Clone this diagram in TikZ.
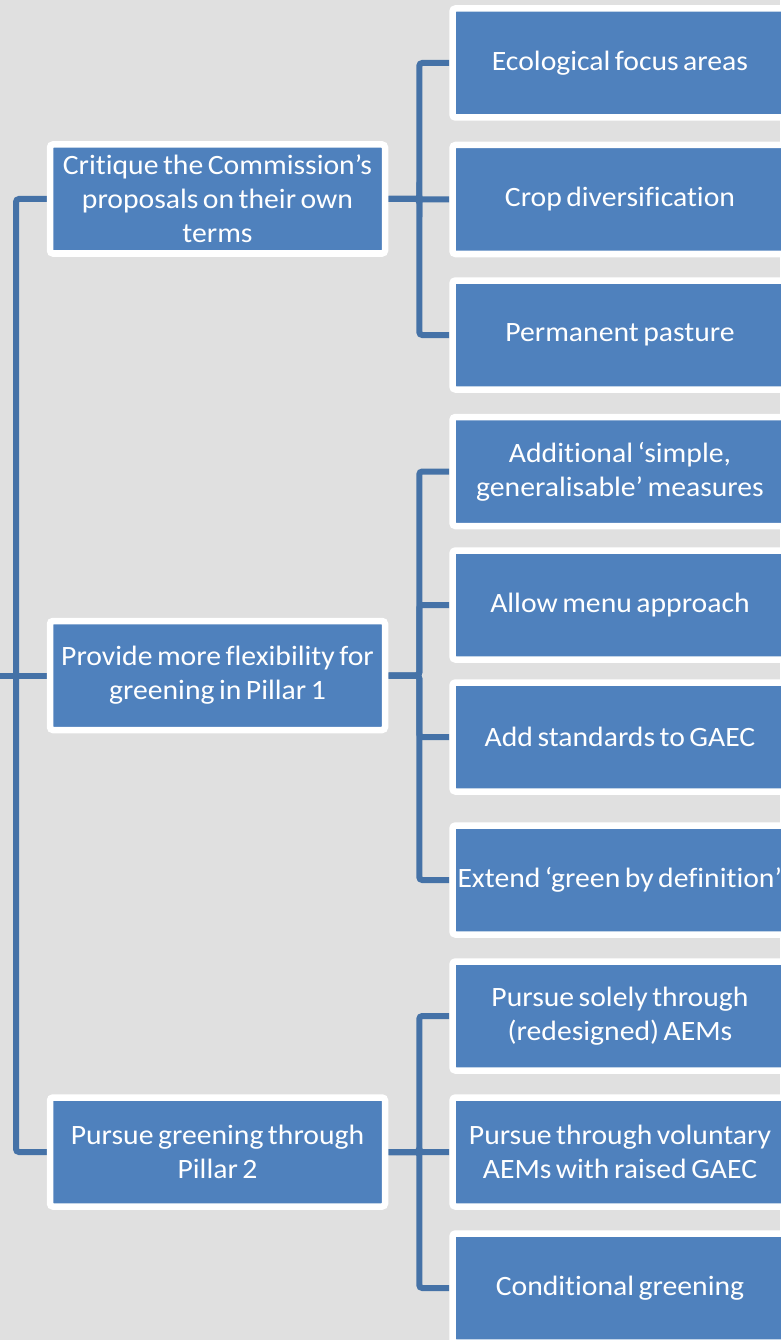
\documentclass[tikz,border=0pt]{standalone}
\usepackage{fontspec}
\setmainfont[Ligatures=NoCommon,FakeStretch=1.06]{Carlito}
\usetikzlibrary{backgrounds,calc}
\definecolor{bg}{HTML}{E0E0E0}
\definecolor{boxblue}{HTML}{4F81BD}
\definecolor{linkblue}{HTML}{4572A7}
\newcommand\cardfont{\fontsize{28}{34}\selectfont\spaceskip=4.5pt plus 1pt minus 1pt\relax}
\begin{document}
\begin{tikzpicture}[x=1pt,y=-1pt,
  card/.style={draw=white, line width=6.5pt, fill=boxblue, rounded corners=3pt,
    minimum width=335pt, minimum height=109pt, align=center,
    inner sep=0pt, text=white, font=\cardfont},
  conn/.style={draw=linkblue, line width=6pt, rounded corners=3pt}]
\useasboundingbox (0,0) rectangle (780,1340);
% middle level
\node[card] (m1) at (217.5,199) {Critique the Commission’s\\proposals on their own\\terms};
\node[card] (m2) at (217.5,675.5) {Provide more flexibility for\\greening in Pillar 1};
\node[card] (m3) at (217.5,1152) {Pursue greening through\\Pillar 2};
% right level
\node[card] (r1) at (620,63) {Ecological focus areas};
\node[card] (r2) at (620,199.5) {Crop diversification};
\node[card] (r3) at (620,335) {Permanent pasture};
\node[card] (r4) at (620,471.5) {Additional ‘simple,\\generalisable’ measures};
\node[card] (r5) at (620,605) {Allow menu approach};
\node[card] (r6) at (620,737) {Add standards to GAEC};
\node[card] (r7) at (620,880) {\makebox[325pt][l]{Extend ‘green by definition’}};
\node[card] (r8) at (620,1016) {Pursue solely through\\(redesigned) AEMs};
\node[card] (r9) at (620,1152) {Pursue through voluntary\\AEMs with raised GAEC};
\node[card] (r10) at (620,1288) {Conditional greening};
\begin{scope}[on background layer]
  \fill[bg] (0,0) rectangle (780,1340);
  \coordinate (root) at (0,675.5);
  \coordinate (lb) at (16,675.5);
  \draw[conn] (root) -- (m2.west);
  \draw[conn] (m1.west) -| (lb);
  \draw[conn] (m3.west) -| (lb);
  \foreach \c in {r1,r2,r3}
    \draw[conn] (m1.east) -- ([xshift=31pt]m1.east) |- (\c.west);
  \foreach \c in {r4,r5,r6,r7}
    \draw[conn] (m2.east) -- ([xshift=31pt]m2.east) |- (\c.west);
  \foreach \c in {r8,r9,r10}
    \draw[conn] (m3.east) -- ([xshift=31pt]m3.east) |- (\c.west);
\end{scope}
\end{tikzpicture}
\end{document}
